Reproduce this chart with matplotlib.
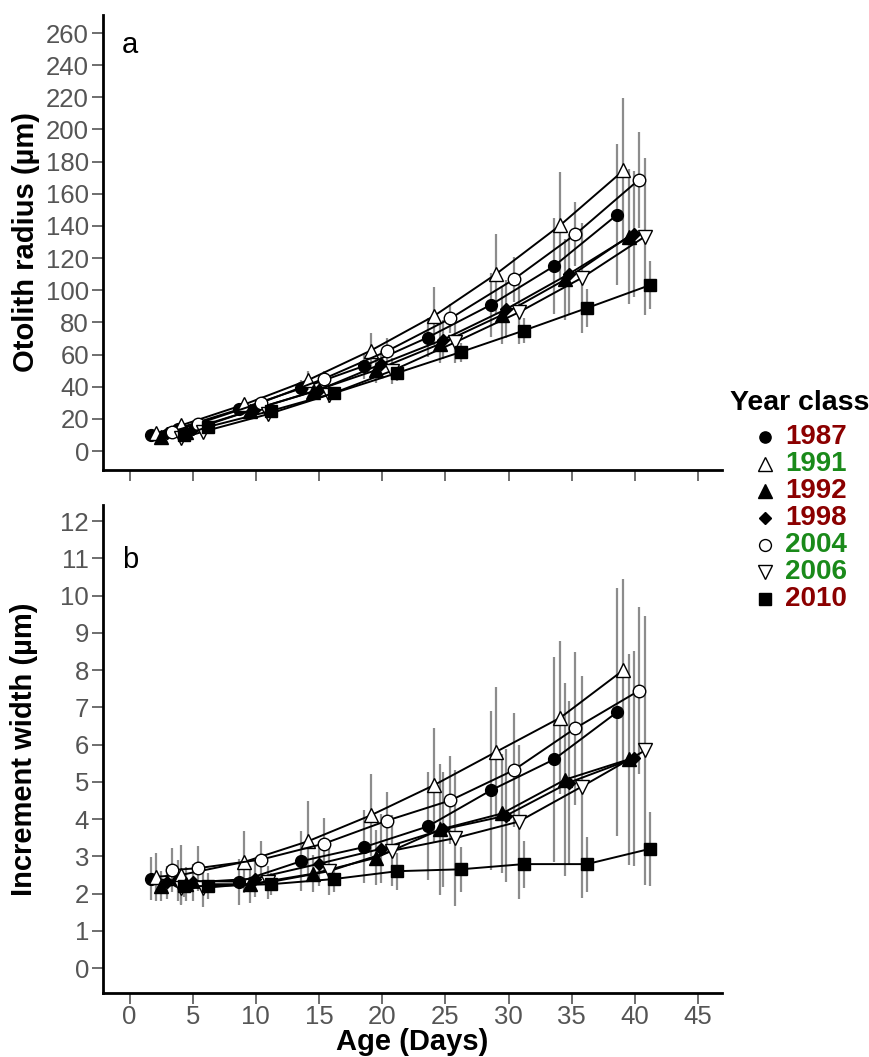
import matplotlib
matplotlib.use("Agg")
import matplotlib.pyplot as plt
from matplotlib.lines import Line2D
import numpy as np

# ---------------- data ----------------
years = ["1987", "1991", "1992", "1998", "2004", "2006", "2010"]
year_colors = ["#8b0000", "#1a8a1a", "#8b0000", "#8b0000", "#1a8a1a", "#1a8a1a", "#8b0000"]

age_1987 = [1.7, 3.8, 8.7, 13.6, 18.6, 23.6, 28.6, 33.6, 38.6]
age_1991 = [2.1, 4.1, 9.1, 14.1, 19.1, 24.1, 29.0, 34.1, 39.1]
age_1992 = [2.5, 4.5, 9.5, 14.5, 19.5, 24.6, 29.5, 34.5, 39.5]
age_1998 = [3.0, 5.0, 9.9, 15.0, 19.9, 24.8, 29.8, 34.8, 39.9]
age_2004 = [3.35, 5.4, 10.4, 15.4, 20.4, 25.4, 30.4, 35.3, 40.3]
age_2006 = [4.1, 5.8, 11.0, 15.8, 20.8, 25.8, 30.8, 35.8, 40.8]
age_2010 = [4.3, 6.2, 11.2, 16.2, 21.2, 26.2, 31.2, 36.2, 41.2]

# otolith radius (um), mean and SD
rad_1987 = [10, 14, 26, 39, 53, 70.6, 90.9, 115, 147]
rad_1991 = [11, 16, 29, 44, 62.5, 84, 110, 140.5, 174.5]
rad_1992 = [9, 12, 25, 37, 50.3, 66.7, 84.7, 106.7, 133.4]
rad_1998 = [11, 14, 26, 38, 54, 69.2, 88.2, 110.2, 135]
rad_2004 = [12, 17, 30, 45, 62.2, 82.5, 106.7, 134.8, 168.6]
rad_2006 = [8, 12, 23, 35, 50, 67.7, 86.2, 107.7, 133.4]
rad_2010 = [10, 15, 25, 36, 48.6, 61.5, 74.9, 88.9, 103.2]

rsd_1987 = [1.5, 2, 3, 5, 8, 12, 20, 30, 44]
rsd_1991 = [1.5, 2.5, 3.5, 6, 11, 18, 25, 33, 45]
rsd_1992 = [1.2, 2, 3, 5, 8, 12, 18, 25, 42]
rsd_1998 = [1.5, 2, 3, 5, 8, 12, 18, 25, 39]
rsd_2004 = [1.5, 2.5, 3.5, 5, 8, 9, 14, 20, 30]
rsd_2006 = [1.2, 2, 3, 5, 8, 13, 19.5, 34, 49]
rsd_2010 = [1, 1.5, 2, 3, 5, 6, 8, 12, 15]

# increment width (um), mean and SD
inc_1987 = [2.4, 2.34, 2.32, 2.87, 3.25, 3.8, 4.77, 5.6, 6.87]
inc_1991 = [2.45, 2.5, 2.85, 3.4, 4.1, 4.91, 5.8, 6.72, 8.0]
inc_1992 = [2.2, 2.25, 2.25, 2.53, 2.96, 3.72, 4.15, 5.06, 5.6]
inc_1998 = [2.3, 2.3, 2.4, 2.8, 3.2, 3.72, 4.09, 4.98, 5.63]
inc_2004 = [2.63, 2.68, 2.91, 3.34, 3.96, 4.5, 5.31, 6.44, 7.44]
inc_2006 = [2.15, 2.15, 2.3, 2.6, 3.15, 3.49, 3.93, 4.87, 5.84]
inc_2010 = [2.2, 2.2, 2.25, 2.39, 2.6, 2.65, 2.79, 2.79, 3.2]

isd_1987 = [0.57, 0.55, 0.62, 0.81, 0.98, 1.45, 2.13, 2.74, 3.33]
isd_1991 = [0.64, 0.79, 0.83, 1.09, 1.1, 1.53, 1.75, 2.05, 2.44]
isd_1992 = [0.4, 0.45, 0.5, 0.5, 0.74, 1.75, 1.6, 2.59, 2.83]
isd_1998 = [0.45, 0.5, 0.5, 0.6, 0.93, 1.55, 1.79, 2.2, 2.88]
isd_2004 = [0.6, 0.6, 0.5, 0.7, 0.76, 1.18, 1.53, 2.05, 2.24]
isd_2006 = [0.45, 0.5, 0.45, 0.65, 0.95, 1.83, 2.07, 2.98, 3.6]
isd_2010 = [0.3, 0.35, 0.3, 0.36, 0.5, 0.6, 0.63, 0.74, 1.0]

ages = [age_1987, age_1991, age_1992, age_1998, age_2004, age_2006, age_2010]
radii = [rad_1987, rad_1991, rad_1992, rad_1998, rad_2004, rad_2006, rad_2010]
rsds = [rsd_1987, rsd_1991, rsd_1992, rsd_1998, rsd_2004, rsd_2006, rsd_2010]
incs = [inc_1987, inc_1991, inc_1992, inc_1998, inc_2004, inc_2006, inc_2010]
isds = [isd_1987, isd_1991, isd_1992, isd_1998, isd_2004, isd_2006, isd_2010]

# marker styles: (marker, facecolor, size)
styles = [("o", "black", 8.5), ("^", "white", 10.5), ("^", "black", 10.5), ("D", "black", 6.5),
          ("o", "white", 9), ("v", "white", 10.5), ("s", "black", 8.5)]

x_ticks = [0, 5, 10, 15, 20, 25, 30, 35, 40, 45]
y_ticks_a = list(range(0, 261, 20))
y_ticks_b = list(range(0, 13))

# ---------------- figure ----------------
plt.rcParams['font.family'] = ['Liberation Sans Narrow', 'Liberation Sans', 'DejaVu Sans']
BOLD = ['Liberation Sans', 'DejaVu Sans']
W, H = 869, 1057
fig = plt.figure(figsize=(W / 100, H / 100), dpi=100)

def px_axes(l, t, r, b):
    return fig.add_axes([l / W, 1 - b / H, (r - l) / W, (b - t) / H])

AX_L, AX_R = 103, 722
ax_a = px_axes(AX_L, 15, AX_R, 470)
ax_b = px_axes(AX_L, 505, AX_R, 993)

tick_col = "#555555"
for ax in (ax_a, ax_b):
    for s in ("top", "right"):
        ax.spines[s].set_visible(False)
    for s in ("left", "bottom"):
        ax.spines[s].set_linewidth(2)
        ax.spines[s].set_color("black")
    ax.tick_params(axis="both", direction="out", length=8, width=1.2, color=tick_col,
                   labelcolor=tick_col, labelsize=18.5, pad=2)
    ax.set_xlim(-2.1, 46.9)
    ax.set_xticks(x_ticks)

for i in range(len(years)):
    m, fc, ms = styles[i]
    ax_a.errorbar(ages[i], radii[i], yerr=rsds[i], fmt="none", ecolor="#8c8c8c",
                  elinewidth=1.6, capsize=0, zorder=1)
    ax_a.plot(ages[i], radii[i], color="black", lw=1.4, marker=m, mfc=fc, mec="black",
              mew=1.0, ms=ms, zorder=3)
    ax_b.errorbar(ages[i], incs[i], yerr=isds[i], fmt="none", ecolor="#8c8c8c",
                  elinewidth=1.6, capsize=0, zorder=1)
    ax_b.plot(ages[i], incs[i], color="black", lw=1.4, marker=m, mfc=fc, mec="black",
              mew=1.0, ms=ms, zorder=3)

ax_a.set_ylim(-11.8, 271.2)
ax_a.set_yticks(y_ticks_a)
ax_a.set_xticklabels([])
ax_a.set_ylabel("Otolith radius (µm)", fontsize=21, fontweight="bold", family=BOLD)
ax_a.yaxis.set_label_coords((40 - AX_L) / (AX_R - AX_L), 0.5)

ax_b.set_ylim(-0.67, 12.43)
ax_b.set_yticks(y_ticks_b)
ax_b.tick_params(axis="x", pad=1)
ax_b.set_xticklabels([str(t) for t in x_ticks])
ax_b.set_ylabel("Increment width (µm)", fontsize=21, fontweight="bold", family=BOLD)
ax_b.yaxis.set_label_coords((38 - AX_L) / (AX_R - AX_L), 0.5)
ax_b.set_xlabel("Age (Days)", fontsize=21, fontweight="bold", family=BOLD, labelpad=-1)

fig.text(130 / W, 1 - 45 / H, "a", fontsize=21, family=BOLD, va="center", ha="center")
fig.text(130 / W, 1 - 560 / H, "b", fontsize=21, family=BOLD, va="center", ha="center")

# legend (placed manually)
fig.text(869 / W, 1 - 403 / H, "Year class", fontsize=20.5, fontweight="bold", family=BOLD,
         ha="right", va="center")
for i in range(len(years)):
    m, fc, ms = styles[i]
    yy = 1 - (437 + 27 * i) / H
    fig.add_artist(Line2D([765 / W], [yy], ls="none", marker=m, mfc=fc, mec="black",
                          mew=1.0, ms=ms * 0.95, transform=fig.transFigure))
    fig.text(785 / W, yy, years[i], fontsize=20, fontweight="bold", family=BOLD,
             color=year_colors[i], ha="left", va="center")

fig.savefig("out.png", dpi=100)
